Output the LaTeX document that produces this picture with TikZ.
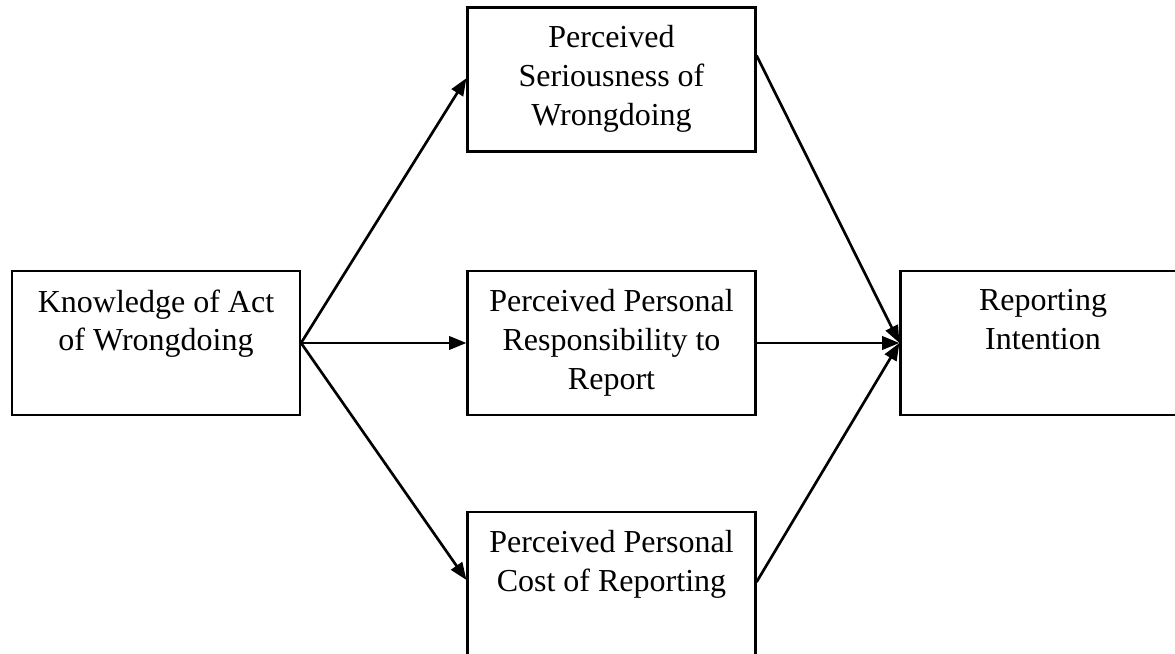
\documentclass[tikz,border=0pt]{standalone}
\usepackage{fontspec}
\setmainfont{Liberation Serif}
\usetikzlibrary{arrows.meta}
\begin{document}
\begin{tikzpicture}[x=0.375pt,y=-0.375pt,
  box/.style={draw, line width=0.8pt, minimum width=108pt, minimum height=54pt, inner sep=0pt},
  boxtext/.style={anchor=north, align=center, inner sep=0pt, font=\fontsize{12}{14.6}\selectfont},
  link/.style={line width=1pt, -{Triangle[length=6.5pt,width=5pt]}}]
\useasboundingbox (0,0) rectangle (1175,654);
\clip (0,0) rectangle (1175,654);
\node[box] (know) at (156,343) {};
\node[box] (ser) at (611.5,79.5) {};
\node[box] (resp) at (611.5,343) {};
\node[box] (cost) at (611.5,584) {};
\node[box] (rep) at (1044.5,343) {};
\node[boxtext] (tknow) at (156,289) {Knowledge of Act\\of Wrongdoing};
\node[boxtext] (tser) at (611.5,25) {Perceived\\Seriousness of\\Wrongdoing};
\node[boxtext] (tresp) at (611.5,289) {Perceived Personal\\Responsibility to\\Report};
\node[boxtext] (tcost) at (611.5,530) {Perceived Personal\\Cost of Reporting};
\node[boxtext] (trep) at (1043,289) {Reporting\\Intention};
\draw[link] (know.east) -- ([yshift=0.5pt]ser.west);
\draw[link] (know.east) -- (resp.west);
\draw[link] (know.east) -- ([yshift=1.5pt]cost.west);
\draw[link] ([yshift=9pt]ser.east) -- (rep.west);
\draw[link] (resp.east) -- (rep.west);
\draw[link] ([yshift=0.75pt]cost.east) -- (rep.west);
\end{tikzpicture}
\end{document}
